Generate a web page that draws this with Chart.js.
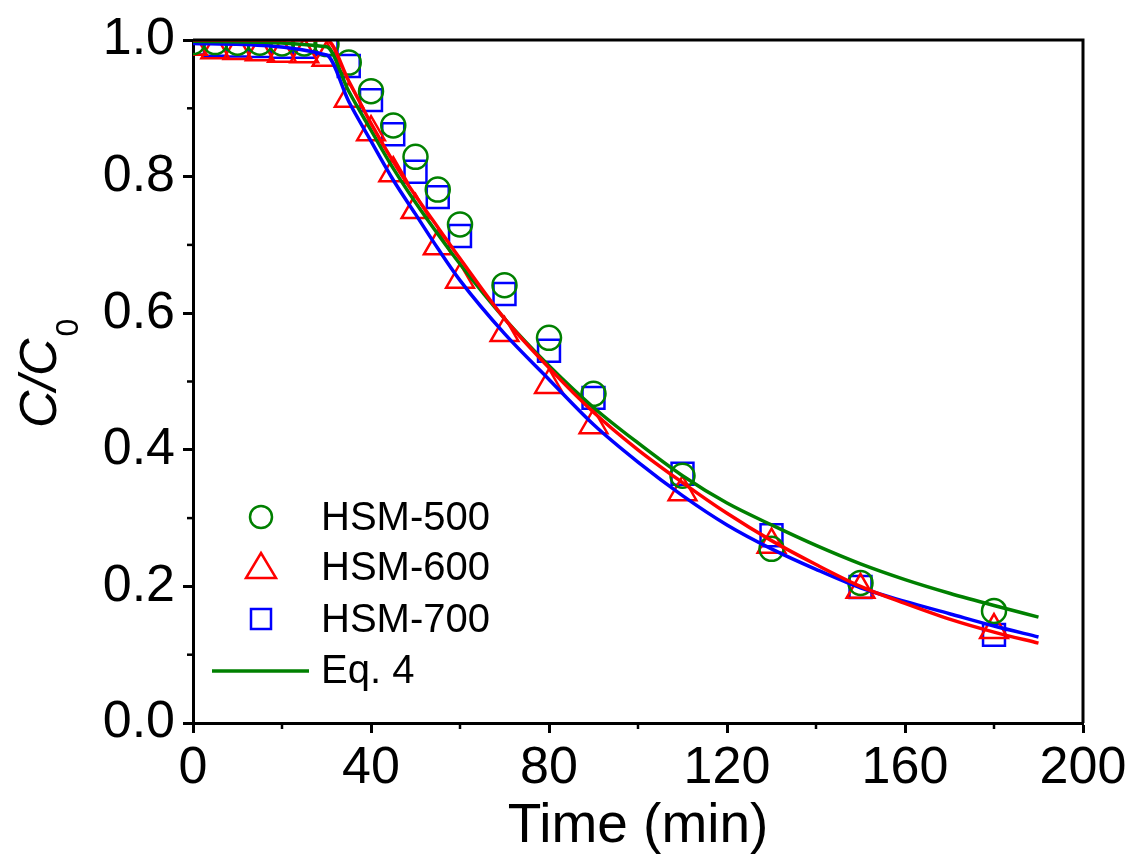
<!DOCTYPE html>
<html>
<head>
<meta charset="utf-8">
<script src="https://cdn.jsdelivr.net/npm/chart.js@4.4.1/dist/chart.umd.min.js"></script>
<style>
  html, body { margin: 0; padding: 0; background: #fff; }
</style>
</head>
<body>
<canvas id="chart" width="1133" height="860"></canvas>
<script>
// measured points (Time in min, C/C0)
const times = [0, 5, 10, 15, 20, 25, 30, 35, 40, 45, 50, 55, 60, 70, 80, 90, 110, 130, 150, 180];
const hsm500 = [0.997, 0.997, 0.996, 0.996, 0.995, 0.995, 0.994, 0.967, 0.925, 0.875, 0.829, 0.781, 0.730, 0.641, 0.564, 0.482, 0.362, 0.255, 0.205, 0.164];
const hsm600 = [0.99, 0.985, 0.984, 0.982, 0.980, 0.979, 0.974, 0.914, 0.865, 0.805, 0.751, 0.698, 0.649, 0.571, 0.495, 0.436, 0.338, 0.261, 0.195, 0.136];
const hsm700 = [0.995, 0.993, 0.992, 0.991, 0.990, 0.990, 0.994, 0.962, 0.912, 0.862, 0.807, 0.770, 0.713, 0.628, 0.545, 0.476, 0.365, 0.275, 0.199, 0.129];

// fitted curves (Eq. 4)
const fitTimes = [0, 30, 35, 40, 45, 50, 55, 60, 70, 80, 90, 100, 110, 120, 130, 140, 150, 160, 170, 180, 190];
const fit500 = [0.998, 0.990, 0.925, 0.868, 0.812, 0.762, 0.716, 0.672, 0.592, 0.523, 0.462, 0.410, 0.362, 0.322, 0.290, 0.260, 0.233, 0.210, 0.190, 0.172, 0.155];
const fit600 = [1.000, 1.000, 0.940, 0.878, 0.822, 0.772, 0.726, 0.680, 0.592, 0.520, 0.455, 0.400, 0.352, 0.307, 0.267, 0.232, 0.200, 0.175, 0.152, 0.133, 0.117];
const fit700 = [0.995, 0.978, 0.910, 0.852, 0.795, 0.745, 0.695, 0.648, 0.570, 0.503, 0.437, 0.382, 0.333, 0.290, 0.255, 0.225, 0.198, 0.178, 0.160, 0.142, 0.126];

const xMinorTicks = [20, 60, 100, 140, 180];
const yMinorTicks = [0.1, 0.3, 0.5, 0.7, 0.9];

const GREEN = 'rgb(0,128,0)';
const RED = 'rgb(255,0,0)';
const BLUE = 'rgb(0,0,255)';
const FONT = "'Liberation Sans', Arial, sans-serif";

const toXY = (xs, ys) => xs.map((x, i) => ({ x: x, y: ys[i] }));

function markerSet(label, ys, color, style, radius) {
    return {
        label: label,
        data: toXY(times, ys),
        showLine: false,
        borderColor: color,
        backgroundColor: 'rgba(0,0,0,0)',
        pointStyle: style,
        pointRadius: radius,
        pointBorderWidth: 2.5,
        clip: 0,
        order: 5
    };
}

function fitSet(ys, color, order) {
    return {
        label: 'fit',
        data: toXY(fitTimes, ys),
        borderColor: color,
        borderWidth: 3.5,
        pointRadius: 0,
        fill: false,
        cubicInterpolationMode: 'monotone',
        order: order
    };
}

// extra drawing: box, minor ticks, y title with subscript, legend
const decor = {
    id: 'decor',
    afterDraw(chart) {
        const ctx = chart.ctx;
        const a = chart.chartArea;
        const xs = chart.scales.x, ys = chart.scales.y;
        ctx.save();
        ctx.strokeStyle = '#000';
        ctx.lineWidth = 3;
        ctx.beginPath();
        ctx.moveTo(a.left, a.top); ctx.lineTo(a.right, a.top); ctx.lineTo(a.right, a.bottom);
        ctx.stroke();

        ctx.lineWidth = 2.5;
        xMinorTicks.forEach(v => {
            const px = xs.getPixelForValue(v);
            ctx.beginPath(); ctx.moveTo(px, a.bottom); ctx.lineTo(px, a.bottom + 6); ctx.stroke();
        });
        yMinorTicks.forEach(v => {
            const py = ys.getPixelForValue(v);
            ctx.beginPath(); ctx.moveTo(a.left, py); ctx.lineTo(a.left - 6, py); ctx.stroke();
        });

        // y axis title C/C0
        ctx.save();
        ctx.translate(56, 428);
        ctx.rotate(-Math.PI / 2);
        ctx.fillStyle = '#000';
        ctx.textBaseline = 'alphabetic';
        ctx.textAlign = 'left';
        ctx.font = 'italic 52px ' + FONT;
        ctx.fillText('C/C', 0, 0);
        const w = ctx.measureText('C/C').width;
        ctx.font = '32px ' + FONT;
        ctx.fillText('0', w + 2, 22);
        ctx.restore();

        // legend
        const items = chart.data.datasets.filter(d => d.showLine === false);
        const lx = 261, textX = 321;
        const rows = [517, 567, 619];
        ctx.font = '40px ' + FONT;
        ctx.textBaseline = 'middle';
        ctx.fillStyle = '#000';
        items.forEach((d, i) => {
            const y = rows[i];
            ctx.strokeStyle = d.borderColor;
            ctx.lineWidth = 2.5;
            ctx.beginPath();
            if (d.pointStyle === 'circle') {
                ctx.arc(lx, y, 11, 0, Math.PI * 2);
            } else if (d.pointStyle === 'triangle') {
                ctx.moveTo(lx, y - 14); ctx.lineTo(lx + 15, y + 11); ctx.lineTo(lx - 15, y + 11); ctx.closePath();
            } else {
                ctx.rect(lx - 10, y - 10, 20, 20);
            }
            ctx.stroke();
            ctx.fillText(d.label, textX, y + 2);
        });
        ctx.strokeStyle = GREEN;
        ctx.lineWidth = 3.5;
        ctx.beginPath(); ctx.moveTo(212, 671); ctx.lineTo(309, 671); ctx.stroke();
        ctx.fillText('Eq. 4', textX, 672);
        ctx.restore();
    }
};

const ctx = document.getElementById('chart').getContext('2d');
new Chart(ctx, {
    type: 'line',
    data: {
        datasets: [
            fitSet(fit600, RED, 1),
            fitSet(fit500, GREEN, 2),
            fitSet(fit700, BLUE, 3),
            markerSet('HSM-500', hsm500, GREEN, 'circle', 12),
            markerSet('HSM-600', hsm600, RED, 'triangle', 16),
            markerSet('HSM-700', hsm700, BLUE, 'rect', 15.5)
        ]
    },
    options: {
        responsive: false,
        animation: false,
        devicePixelRatio: 1,
        layout: { padding: { top: 40, right: 50, left: 0, bottom: 0 } },
        plugins: {
            legend: { display: false },
            tooltip: { enabled: false }
        },
        scales: {
            x: {
                type: 'linear',
                min: 0,
                max: 200,
                afterFit: s => { s.height = 137; },
                ticks: { stepSize: 40, color: '#000', font: { family: FONT, size: 52 }, padding: 4, maxRotation: 0 },
                grid: { drawOnChartArea: false, tickLength: 10, tickWidth: 3, tickColor: '#000' },
                border: { color: '#000', width: 3 },
                title: { display: true, text: 'Time (min)', color: '#000', font: { family: FONT, size: 55 }, padding: { top: 0, bottom: 0 } }
            },
            y: {
                type: 'linear',
                min: 0,
                max: 1,
                afterFit: s => { s.width = 193; },
                ticks: { stepSize: 0.2, color: '#000', font: { family: FONT, size: 52 }, padding: 8, callback: v => v.toFixed(1) },
                grid: { drawOnChartArea: false, tickLength: 10, tickWidth: 3, tickColor: '#000' },
                border: { color: '#000', width: 3 }
            }
        }
    },
    plugins: [decor]
});
</script>
</body>
</html>
